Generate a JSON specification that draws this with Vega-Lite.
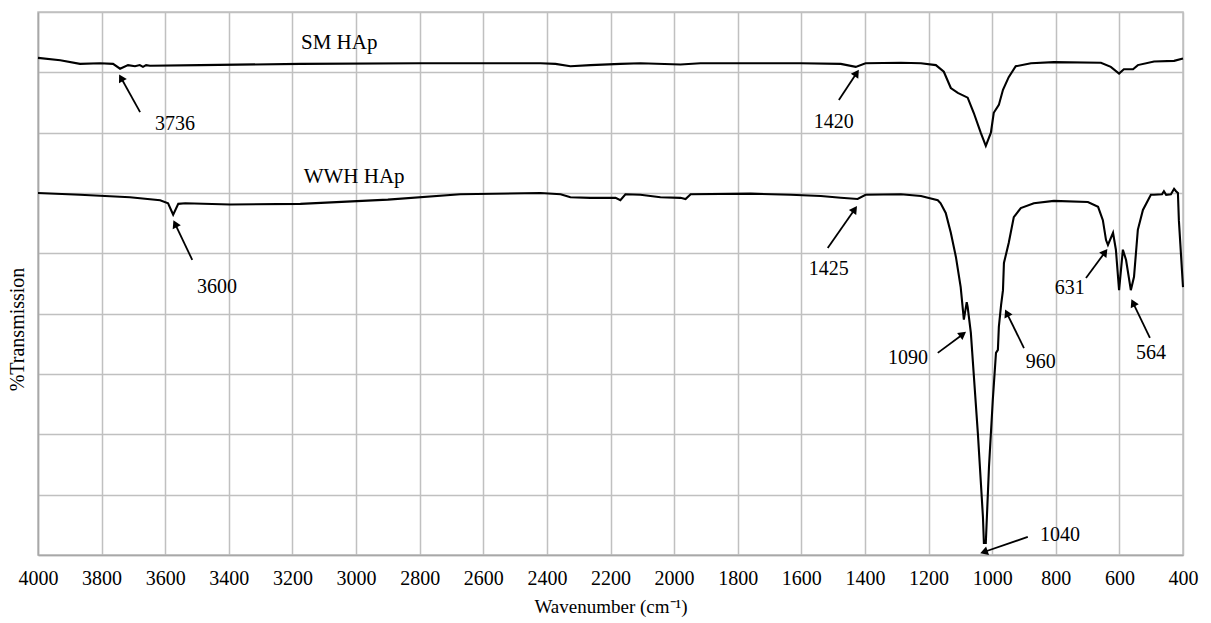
{
  "$schema": "https://vega.github.io/schema/vega-lite/v6.json",
  "width": 1145,
  "height": 543,
  "autosize": {"type": "none"},
  "padding": {"left": 38, "top": 12, "right": 28, "bottom": 68},
  "background": "white",
  "config": {
    "view": {"stroke": "#c0c0c0", "strokeWidth": 1.5},
    "font": "Liberation Serif",
    "axis": {"gridColor": "#c0c0c0", "gridWidth": 1.5, "gridOpacity": 1, "domainColor": "#a8a8a8", "domainWidth": 1.5, "ticks": false, "labelFont": "Liberation Serif", "titleFont": "Liberation Serif", "labelColor": "#000", "titleColor": "#000", "titleFontWeight": "normal"}
  },
  "datasets": {
    "spectra": [
      {"sample": "SM", "wn": 4000, "t": 82.4}, {"sample": "SM", "wn": 3930, "t": 82.0}, {"sample": "SM", "wn": 3868, "t": 81.4},
      {"sample": "SM", "wn": 3805, "t": 81.5}, {"sample": "SM", "wn": 3764, "t": 81.4}, {"sample": "SM", "wn": 3742, "t": 80.6},
      {"sample": "SM", "wn": 3717, "t": 81.2}, {"sample": "SM", "wn": 3695, "t": 81.0}, {"sample": "SM", "wn": 3680, "t": 81.2},
      {"sample": "SM", "wn": 3670, "t": 80.9}, {"sample": "SM", "wn": 3660, "t": 81.2}, {"sample": "SM", "wn": 3648, "t": 81.1},
      {"sample": "SM", "wn": 3490, "t": 81.2}, {"sample": "SM", "wn": 3175, "t": 81.4}, {"sample": "SM", "wn": 2798, "t": 81.5},
      {"sample": "SM", "wn": 2420, "t": 81.5}, {"sample": "SM", "wn": 2373, "t": 81.4}, {"sample": "SM", "wn": 2326, "t": 81.0},
      {"sample": "SM", "wn": 2263, "t": 81.2}, {"sample": "SM", "wn": 2169, "t": 81.4}, {"sample": "SM", "wn": 2106, "t": 81.5},
      {"sample": "SM", "wn": 1980, "t": 81.3}, {"sample": "SM", "wn": 1917, "t": 81.5}, {"sample": "SM", "wn": 1602, "t": 81.5},
      {"sample": "SM", "wn": 1476, "t": 81.4}, {"sample": "SM", "wn": 1429, "t": 80.9}, {"sample": "SM", "wn": 1398, "t": 81.5},
      {"sample": "SM", "wn": 1287, "t": 81.6}, {"sample": "SM", "wn": 1224, "t": 81.5}, {"sample": "SM", "wn": 1177, "t": 81.2},
      {"sample": "SM", "wn": 1152, "t": 80.1}, {"sample": "SM", "wn": 1130, "t": 77.4}, {"sample": "SM", "wn": 1108, "t": 76.6},
      {"sample": "SM", "wn": 1077, "t": 75.8}, {"sample": "SM", "wn": 1058, "t": 73.3}, {"sample": "SM", "wn": 1036, "t": 70.0},
      {"sample": "SM", "wn": 1020, "t": 67.8}, {"sample": "SM", "wn": 1004, "t": 70.0}, {"sample": "SM", "wn": 995, "t": 73.3},
      {"sample": "SM", "wn": 979, "t": 74.6}, {"sample": "SM", "wn": 966, "t": 77.1}, {"sample": "SM", "wn": 948, "t": 79.2},
      {"sample": "SM", "wn": 926, "t": 81.0}, {"sample": "SM", "wn": 878, "t": 81.5}, {"sample": "SM", "wn": 806, "t": 81.7},
      {"sample": "SM", "wn": 658, "t": 81.6}, {"sample": "SM", "wn": 627, "t": 80.9}, {"sample": "SM", "wn": 601, "t": 79.8},
      {"sample": "SM", "wn": 586, "t": 80.5}, {"sample": "SM", "wn": 557, "t": 80.5}, {"sample": "SM", "wn": 542, "t": 81.2},
      {"sample": "SM", "wn": 491, "t": 81.8}, {"sample": "SM", "wn": 428, "t": 81.9}, {"sample": "SM", "wn": 400, "t": 82.3},
      {"sample": "WWH", "wn": 4000, "t": 60.0}, {"sample": "WWH", "wn": 3868, "t": 59.7}, {"sample": "WWH", "wn": 3711, "t": 59.3},
      {"sample": "WWH", "wn": 3616, "t": 58.8}, {"sample": "WWH", "wn": 3591, "t": 58.3}, {"sample": "WWH", "wn": 3575, "t": 56.4},
      {"sample": "WWH", "wn": 3559, "t": 58.2}, {"sample": "WWH", "wn": 3537, "t": 58.3}, {"sample": "WWH", "wn": 3396, "t": 58.1},
      {"sample": "WWH", "wn": 3175, "t": 58.2}, {"sample": "WWH", "wn": 2900, "t": 58.9}, {"sample": "WWH", "wn": 2672, "t": 59.8},
      {"sample": "WWH", "wn": 2420, "t": 60.0}, {"sample": "WWH", "wn": 2357, "t": 59.8}, {"sample": "WWH", "wn": 2326, "t": 59.3},
      {"sample": "WWH", "wn": 2263, "t": 59.2}, {"sample": "WWH", "wn": 2184, "t": 59.2}, {"sample": "WWH", "wn": 2169, "t": 58.8},
      {"sample": "WWH", "wn": 2153, "t": 59.8}, {"sample": "WWH", "wn": 2106, "t": 59.7}, {"sample": "WWH", "wn": 2043, "t": 59.3},
      {"sample": "WWH", "wn": 1980, "t": 59.2}, {"sample": "WWH", "wn": 1964, "t": 59.0}, {"sample": "WWH", "wn": 1948, "t": 59.8},
      {"sample": "WWH", "wn": 1759, "t": 59.9}, {"sample": "WWH", "wn": 1634, "t": 59.7}, {"sample": "WWH", "wn": 1539, "t": 59.5},
      {"sample": "WWH", "wn": 1476, "t": 59.2}, {"sample": "WWH", "wn": 1423, "t": 59.0}, {"sample": "WWH", "wn": 1398, "t": 59.7},
      {"sample": "WWH", "wn": 1287, "t": 59.8}, {"sample": "WWH", "wn": 1224, "t": 59.5}, {"sample": "WWH", "wn": 1171, "t": 58.8},
      {"sample": "WWH", "wn": 1162, "t": 58.3}, {"sample": "WWH", "wn": 1146, "t": 56.7}, {"sample": "WWH", "wn": 1130, "t": 53.4},
      {"sample": "WWH", "wn": 1114, "t": 49.4}, {"sample": "WWH", "wn": 1099, "t": 44.4}, {"sample": "WWH", "wn": 1089, "t": 39.0},
      {"sample": "WWH", "wn": 1080, "t": 41.9}, {"sample": "WWH", "wn": 1077, "t": 41.1}, {"sample": "WWH", "wn": 1067, "t": 36.8},
      {"sample": "WWH", "wn": 1045, "t": 20.2}, {"sample": "WWH", "wn": 1029, "t": 6.3}, {"sample": "WWH", "wn": 1026, "t": 2.0},
      {"sample": "WWH", "wn": 1020, "t": 2.0}, {"sample": "WWH", "wn": 1010, "t": 14.6}, {"sample": "WWH", "wn": 998, "t": 25.7},
      {"sample": "WWH", "wn": 988, "t": 33.5}, {"sample": "WWH", "wn": 982, "t": 34.0}, {"sample": "WWH", "wn": 979, "t": 37.8},
      {"sample": "WWH", "wn": 972, "t": 41.4}, {"sample": "WWH", "wn": 966, "t": 43.9}, {"sample": "WWH", "wn": 963, "t": 48.4},
      {"sample": "WWH", "wn": 948, "t": 51.7}, {"sample": "WWH", "wn": 932, "t": 56.0}, {"sample": "WWH", "wn": 910, "t": 57.5},
      {"sample": "WWH", "wn": 869, "t": 58.3}, {"sample": "WWH", "wn": 806, "t": 58.7}, {"sample": "WWH", "wn": 699, "t": 58.5},
      {"sample": "WWH", "wn": 667, "t": 57.7}, {"sample": "WWH", "wn": 652, "t": 55.5}, {"sample": "WWH", "wn": 642, "t": 52.2},
      {"sample": "WWH", "wn": 636, "t": 51.4}, {"sample": "WWH", "wn": 620, "t": 53.4}, {"sample": "WWH", "wn": 611, "t": 50.6},
      {"sample": "WWH", "wn": 601, "t": 43.9}, {"sample": "WWH", "wn": 589, "t": 50.6}, {"sample": "WWH", "wn": 579, "t": 48.9},
      {"sample": "WWH", "wn": 564, "t": 43.9}, {"sample": "WWH", "wn": 554, "t": 46.1}, {"sample": "WWH", "wn": 542, "t": 53.9},
      {"sample": "WWH", "wn": 526, "t": 57.2}, {"sample": "WWH", "wn": 501, "t": 59.7}, {"sample": "WWH", "wn": 491, "t": 59.7},
      {"sample": "WWH", "wn": 466, "t": 59.8}, {"sample": "WWH", "wn": 460, "t": 60.3}, {"sample": "WWH", "wn": 453, "t": 59.7},
      {"sample": "WWH", "wn": 438, "t": 59.8}, {"sample": "WWH", "wn": 428, "t": 60.7}, {"sample": "WWH", "wn": 422, "t": 60.3},
      {"sample": "WWH", "wn": 416, "t": 60.0}, {"sample": "WWH", "wn": 413, "t": 55.5}, {"sample": "WWH", "wn": 400, "t": 44.4}
    ],
    "arrows": [
      {"peak": "3736", "wn": 3679, "t": 73.4, "wn2": 3739, "t2": 79.1},
      {"peak": "1420", "wn": 1482, "t": 75.4, "wn2": 1426, "t2": 79.9},
      {"peak": "3600", "wn": 3515, "t": 48.9, "wn2": 3569, "t2": 54.9},
      {"peak": "1425", "wn": 1517, "t": 50.9, "wn2": 1432, "t2": 57.3},
      {"peak": "1090", "wn": 1171, "t": 33.5, "wn2": 1092, "t2": 36.6},
      {"peak": "960", "wn": 900, "t": 34.3, "wn2": 954, "t2": 40.1},
      {"peak": "631", "wn": 705, "t": 45.9, "wn2": 645, "t2": 50.2},
      {"peak": "564", "wn": 504, "t": 36.0, "wn2": 557, "t2": 41.8},
      {"peak": "1040", "wn": 888, "t": 3.0, "wn2": 1026, "t2": 0.5}
    ],
    "labels": [
      {"text": "3736", "wn": 3569, "t": 71.4},
      {"text": "1420", "wn": 1498, "t": 71.8},
      {"text": "3600", "wn": 3437, "t": 44.4},
      {"text": "1425", "wn": 1514, "t": 47.4},
      {"text": "1090", "wn": 1265, "t": 32.7},
      {"text": "960", "wn": 847, "t": 32.0},
      {"text": "631", "wn": 756, "t": 44.3},
      {"text": "564", "wn": 501, "t": 33.5},
      {"text": "1040", "wn": 787, "t": 3.3}
    ],
    "series": [
      {"text": "SM HAp", "wn": 3053, "t": 84.9},
      {"text": "WWH HAp", "wn": 3006, "t": 62.7}
    ]
  },
  "encoding": {
    "x": {
      "field": "wn", "type": "quantitative",
      "scale": {"domain": [400, 4000], "reverse": true, "nice": false, "zero": false},
      "axis": {"values": [400, 600, 800, 1000, 1200, 1400, 1600, 1800, 2000, 2200, 2400, 2600, 2800, 3000, 3200, 3400, 3600, 3800, 4000], "format": "d", "labelFontSize": 20, "labelPadding": 13, "labelFlush": false, "title": "Wavenumber (cm⁻¹)", "titleFontSize": 19, "titlePadding": 9}
    },
    "y": {
      "field": "t", "type": "quantitative",
      "scale": {"domain": [0, 90], "nice": false, "zero": false},
      "axis": {"values": [0, 10, 20, 30, 40, 50, 60, 70, 80, 90], "labels": false, "title": "%Transmission", "titleFontSize": 20, "titleX": -21, "titleY": 317, "titleAlign": "center", "titleBaseline": "middle", "titleAngle": -90}
    }
  },
  "layer": [
    {
      "data": {"name": "spectra"},
      "mark": {"type": "line", "color": "black", "strokeWidth": 2.1, "interpolate": "linear"},
      "encoding": {"detail": {"field": "sample"}}
    },
    {
      "data": {"name": "arrows"},
      "mark": {"type": "rule", "color": "black", "strokeWidth": 1.8},
      "encoding": {"x2": {"field": "wn2"}, "y2": {"field": "t2"}}
    },
    {
      "data": {"name": "arrows"},
      "transform": [
        {"calculate": "atan2(-(datum.wn2 - datum.wn) * 0.31778, (datum.t2 - datum.t) * 6.0333) * 180 / PI", "as": "ang"}
      ],
      "mark": {"type": "point", "shape": "triangle-up", "filled": true, "color": "black", "size": 80, "opacity": 1},
      "encoding": {
        "x": {"field": "wn2", "type": "quantitative"},
        "y": {"field": "t2", "type": "quantitative"},
        "angle": {"field": "ang", "type": "quantitative", "scale": null}
      }
    },
    {
      "data": {"name": "labels"},
      "mark": {"type": "text", "font": "Liberation Serif", "fontSize": 20, "color": "black", "align": "center", "baseline": "middle"},
      "encoding": {"text": {"field": "text"}}
    },
    {
      "data": {"name": "series"},
      "mark": {"type": "text", "font": "Liberation Serif", "fontSize": 21, "color": "black", "align": "center", "baseline": "middle"},
      "encoding": {"text": {"field": "text"}}
    }
  ]
}
